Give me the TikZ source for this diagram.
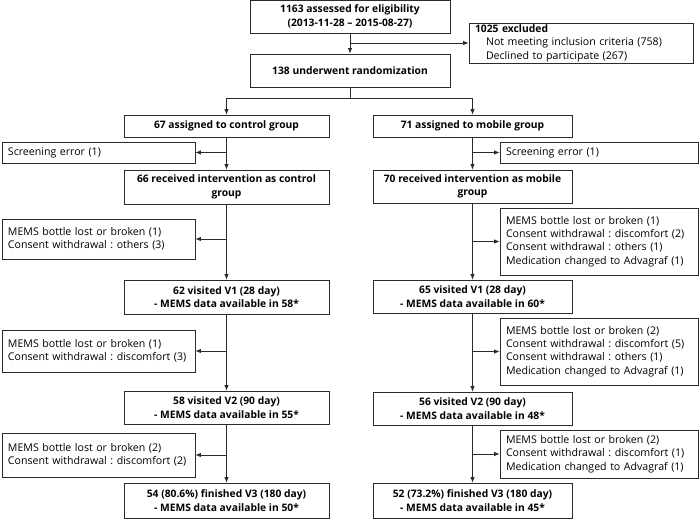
\documentclass[tikz,border=0pt]{standalone}
\usepackage{fontspec}
\setmainfont{Open Sans}
\usetikzlibrary{arrows.meta}
\frenchspacing
\definecolor{flowline}{HTML}{2B2B2B}
\newcommand{\flowfont}{\fontsize{10.3}{13.4}\selectfont}
\newcommand{\notefont}{\fontsize{10.6}{13.4}\selectfont}
\tikzset{
  stage/.style={draw=flowline,line width=0.8pt,font=\flowfont\bfseries,
    align=center,inner sep=0pt,minimum width=#1},
  note/.style={draw=flowline,line width=0.8pt,font=\notefont,
    align=left,inner xsep=6pt,inner ysep=0pt,text width=#1},
  link/.style={draw=flowline,line width=0.8pt},
  flow/.style={link,-{Latex[length=5.5pt,width=4.5pt]}}
}

\begin{document}
\begin{tikzpicture}[x=1pt,y=-1pt]
  \useasboundingbox (0,0) rectangle (700,519);
  % screening and randomization
  \node[stage=200pt,minimum height=33pt] (elig) at (350,16.5)
    {1163 assessed for eligibility\\(2013-11-28 – 2015-08-27)};
  \node[note=212pt,minimum height=40pt] (excl) at (581,43)
    {{\flowfont\bfseries 1025 excluded}\\\hspace*{11pt}Not meeting inclusion criteria (758)\\
     \hspace*{11pt}Declined to participate (267)};
  \node[stage=200pt,minimum height=33pt] (rand) at (350,70.5)
    {138 underwent randomization};
  \coordinate (split) at (350,98);
  % control group
  \node[stage=205pt,minimum height=22pt] (ctrl) at (226.5,126)
    {67 assigned to control group};
  \node[note=181pt,minimum height=21pt] (scrc) at (98.5,152.5)
    {Screening error (1)};
  \node[stage=205pt,minimum height=34pt] (recc) at (226.5,187)
    {66 received intervention as control\\group};
  \node[note=181pt,minimum height=40pt] (lossc1) at (98.5,239)
    {MEMS bottle lost or broken (1)\\Consent withdrawal : others (3)};
  \node[stage=205pt,minimum height=34pt] (v1c) at (226.5,297)
    {62 visited V1 (28 day)\\- MEMS data available in 58*};
  \node[note=181pt,minimum height=42pt] (lossc2) at (98.5,351)
    {MEMS bottle lost or broken (1)\\Consent withdrawal : discomfort (3)};
  \node[stage=205pt,minimum height=33pt] (v2c) at (226.5,407.5)
    {58 visited V2 (90 day)\\- MEMS data available in 55*};
  \node[note=181pt,minimum height=44pt] (lossc3) at (98.5,455)
    {MEMS bottle lost or broken (2)\\Consent withdrawal : discomfort (2)};
  \node[stage=205pt,minimum height=35pt] (v3c) at (226.5,500.5)
    {54 (80.6\%) finished V3 (180 day)\\- MEMS data available in 50*};
  % mobile group
  \node[stage=199pt,minimum height=22pt] (mob) at (472.5,126)
    {71 assigned to mobile group};
  \node[note=186pt,minimum height=21pt] (scrm) at (599,152.5)
    {Screening error (1)};
  \node[stage=199pt,minimum height=33pt] (recm) at (472.5,186.5)
    {70 received intervention as mobile\\group};
  \node[note=186pt,minimum height=67pt] (lossm1) at (599,241.5)
    {MEMS bottle lost or broken (1)\\Consent withdrawal : discomfort (2)\\
     Consent withdrawal : others (1)\\Medication changed to Advagraf (1)};
  \node[stage=199pt,minimum height=33pt] (v1m) at (472.5,296.5)
    {65 visited V1 (28 day)\\- MEMS data available in 60*};
  \node[note=186pt,minimum height=67pt] (lossm2) at (599,351.5)
    {MEMS bottle lost or broken (2)\\Consent withdrawal : discomfort (5)\\
     Consent withdrawal : others (1)\\Medication changed to Advagraf (1)};
  \node[stage=199pt,minimum height=33pt] (v2m) at (472.5,408.5)
    {56 visited V2 (90 day)\\- MEMS data available in 48*};
  \node[note=186pt,minimum height=48pt] (lossm3) at (599,454)
    {MEMS bottle lost or broken (2)\\Consent withdrawal : discomfort (1)\\
     Medication changed to Advagraf (1)};
  \node[stage=199pt,minimum height=35pt] (v3m) at (472.5,500.5)
    {52 (73.2\%) finished V3 (180 day)\\- MEMS data available in 45*};
  % connectors
  \draw[flow] (elig) -- (rand);
  \draw[flow] (elig.south |- excl.west) -- (excl.west);
  \draw[link] (rand) -- (split);
  \draw[flow] (split) -| (ctrl.north);
  \draw[flow] (split) -| (mob.north);
  \draw[flow] (ctrl) -- (recc);
  \draw[flow] (recc) -- (v1c);
  \draw[flow] (v1c) -- (v2c);
  \draw[flow] (v2c) -- (v3c);
  \draw[flow] (mob) -- (recm);
  \draw[flow] (recm) -- (v1m);
  \draw[flow] (v1m) -- (v2m);
  \draw[flow] (v2m) -- (v3m);
  \draw[flow] (ctrl.south |- scrc.east) -- (scrc.east);
  \draw[flow] (recc.south |- lossc1.east) -- (lossc1.east);
  \draw[flow] (v1c.south |- lossc2.east) -- (lossc2.east);
  \draw[flow] (v2c.south |- lossc3.east) -- (lossc3.east);
  \draw[flow] (mob.south |- scrm.west) -- (scrm.west);
  \draw[flow] (recm.south |- lossm1.west) -- (lossm1.west);
  \draw[flow] (v1m.south |- lossm2.west) -- (lossm2.west);
  \draw[flow] (v2m.south |- lossm3.west) -- (lossm3.west);
\end{tikzpicture}
\end{document}
